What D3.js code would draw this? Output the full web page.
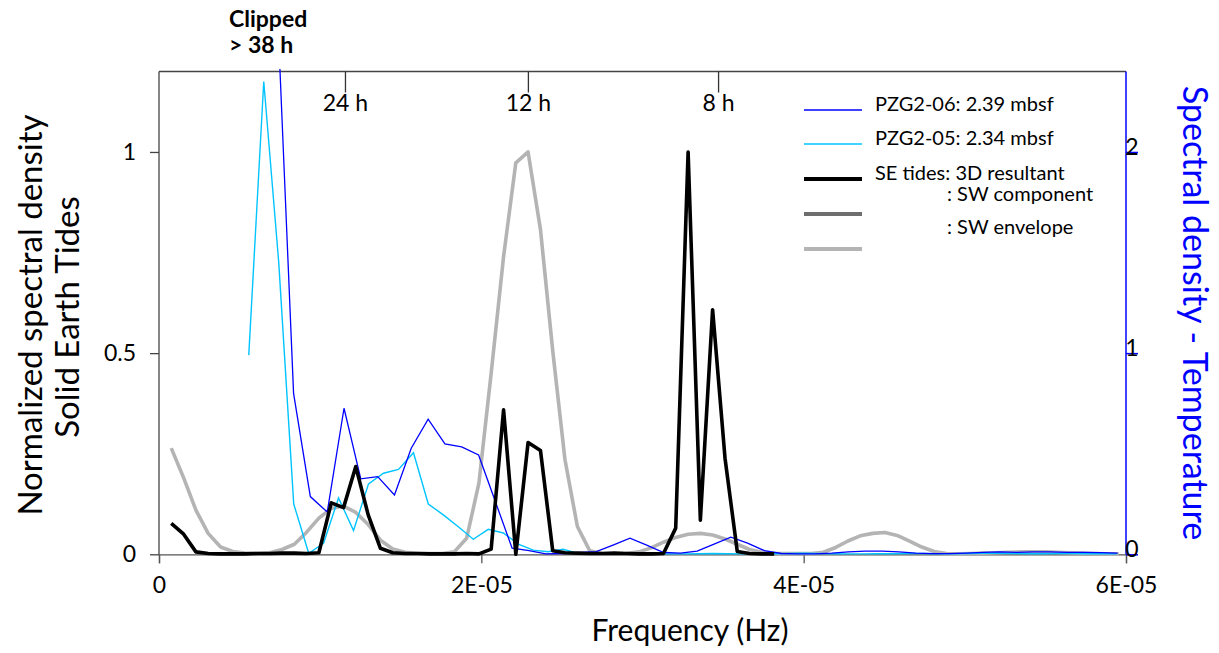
<!DOCTYPE html>
<html lang="en">
<head>
    <meta charset="UTF-8">
    <title>Spectral density</title>
    <script src="https://d3js.org/d3.v7.min.js"></script>
    <style>
        body { margin: 0; background: #fff; }
        svg text { font-family: Lato, "Open Sans", sans-serif; }
        .tick text { font-size: 23px; fill: #000; }
    </style>
</head>
<body>
<svg id="chart"></svg>
<script>
    const width = 1219, height = 653;

    // frequency grid of the solid earth tide spectra (micro Hz)
    const tideFreq = [0.76, 1.53, 2.29, 3.05, 3.82, 4.58, 5.34, 6.11, 6.87, 7.63,
        8.40, 9.16, 9.92, 10.69, 11.45, 12.21, 12.98, 13.74, 14.50, 15.27,
        16.03, 16.80, 17.56, 18.32, 19.09, 19.85, 20.61, 21.38, 22.14, 22.90,
        23.67, 24.43, 25.19, 25.96, 26.72, 27.48, 28.25, 29.01, 29.77, 30.54,
        31.30, 32.06, 32.83, 33.59, 34.35, 35.12, 35.88, 36.64, 37.41, 38.17,
        38.93, 39.70, 40.46, 41.22, 41.99, 42.75, 43.51, 44.28, 45.04, 45.80,
        46.57, 47.33, 48.09, 48.86, 49.62, 50.38, 51.15, 51.91, 52.68, 53.44,
        54.20, 54.97, 55.73, 56.49, 57.26, 58.02, 58.78, 59.55];

    // SE tides 3D resultant (normalized, first 50 bins)
    const tide3D = [0.077, 0.05, 0.006, 0.002, 0.001, 0.001, 0.001, 0.002, 0.002, 0.003,
        0.003, 0.002, 0.004, 0.128, 0.116, 0.218, 0.098, 0.015, 0.004, 0.002,
        0.002, 0.001, 0.001, 0.001, 0.002, 0.001, 0.013, 0.359, 0.0, 0.278,
        0.258, 0.009, 0.004, 0.003, 0.002, 0.002, 0.003, 0.002, 0.001, 0.001,
        0.002, 0.065, 1.0, 0.085, 0.608, 0.239, 0.007, 0.002, 0.001, 0.001];

    // SE tides SW envelope (normalized)
    const tideEnvelope = [0.264, 0.19, 0.11, 0.052, 0.018, 0.007, 0.003, 0.002, 0.004, 0.012,
        0.025, 0.055, 0.09, 0.114, 0.12, 0.104, 0.074, 0.035, 0.013, 0.005,
        0.002, 0.002, 0.002, 0.006, 0.04, 0.177, 0.45, 0.74, 0.973, 1.0,
        0.807, 0.506, 0.235, 0.069, 0.009, 0.002, 0.001, 0.002, 0.006, 0.016,
        0.03, 0.042, 0.05, 0.052, 0.048, 0.038, 0.025, 0.012, 0.005, 0.002,
        0.002, 0.002, 0.002, 0.005, 0.017, 0.033, 0.046, 0.052, 0.054, 0.047,
        0.033, 0.018, 0.007, 0.002, 0.001, 0.002, 0.003, 0.004, 0.005, 0.006,
        0.006, 0.006, 0.005, 0.004, 0.003, 0.002, 0.001, 0.001];

    // PZG2-06 temperature spectrum
    const pzg06Freq = [7.30, 8.35, 9.39, 10.44, 11.48, 12.52, 13.57, 14.61, 15.65, 16.70,
        17.74, 18.78, 19.83, 20.87, 21.91, 22.96, 24.00, 25.04, 26.09, 27.13,
        28.17, 29.22, 30.26, 31.31, 32.35, 33.39, 34.44, 35.48, 36.52, 37.57,
        38.61, 39.65, 40.70, 41.74, 42.78, 43.83, 44.87, 45.91, 46.96, 48.00,
        49.04, 50.09, 51.13, 52.18, 53.22, 54.26, 55.31, 56.35, 57.39, 58.44, 59.48];
    const pzg06 = [2.8, 0.80, 0.287, 0.21, 0.726, 0.375, 0.386, 0.295, 0.527, 0.672,
        0.549, 0.534, 0.494, 0.262, 0.03, 0.018, 0.002, 0.004, 0.009, 0.013,
        0.046, 0.08, 0.046, 0.009, 0.006, 0.016, 0.051, 0.085, 0.056, 0.018,
        0.004, 0.002, 0.002, 0.006, 0.012, 0.016, 0.016, 0.012, 0.006, 0.003,
        0.003, 0.006, 0.01, 0.012, 0.01, 0.012, 0.012, 0.01, 0.01, 0.008, 0.006];

    // PZG2-05 temperature spectrum
    const pzg05Freq = [5.57, 6.50, 7.43, 8.36, 9.29, 10.21, 11.14, 12.07, 13.00, 13.93,
        14.86, 15.79, 16.71, 17.64, 18.57, 19.50, 20.43, 21.36, 22.29, 23.22,
        24.14, 25.07, 26.00, 26.93, 27.86, 28.79, 29.72, 30.64, 31.57, 32.50,
        33.43, 34.36, 35.29, 36.22, 37.14, 38.07, 39.00, 39.93, 40.86, 41.79,
        42.72, 43.64, 44.57, 45.50, 46.43, 47.36, 48.29, 49.22, 50.14, 51.07,
        52.00, 52.93, 53.86, 54.79, 55.72, 56.64, 57.57, 58.50, 59.43];
    const pzg05 = [0.99, 2.35, 1.45, 0.25, 0.005, 0.055, 0.28, 0.118, 0.35, 0.403,
        0.422, 0.505, 0.25, 0.196, 0.137, 0.075, 0.124, 0.106, 0.051, 0.021,
        0.013, 0.025, 0.004, 0.003, 0.002, 0.003, 0.004, 0.003, 0.002, 0.002,
        0.003, 0.004, 0.003, 0.002, 0.002, 0.003, 0.004, 0.005, 0.004, 0.003,
        0.002, 0.002, 0.003, 0.003, 0.004, 0.004, 0.003, 0.003, 0.004, 0.005,
        0.005, 0.004, 0.003, 0.003, 0.004, 0.004, 0.003, 0.003, 0.002];

    const xTicks = [0, 20, 40, 60];
    const xTickLabels = ["0", "2E-05", "4E-05", "6E-05"];
    const leftTicks = [0, 0.5, 1];
    const rightTicks = [0, 1, 2];
    const periodFreq = [11.57, 22.92, 34.72];
    const periodLabels = ["24 h", "12 h", "8 h"];

    const legendItems = [
        {label: "PZG2-06: 2.39 mbsf", color: "#0000ff", w: 1.5},
        {label: "PZG2-05: 2.34 mbsf", color: "#00c4ff", w: 1.5},
        {label: "SE tides: 3D resultant", color: "#000000", w: 4},
        {label: ": SW component", color: "#6e6e6e", w: 4},
        {label: ": SW envelope", color: "#b4b4b4", w: 4}
    ];

    const plotLeft = 159, plotRight = 1126, plotTop = 71.5, plotBottom = 554.3;

    const svg = d3.select("#chart")
        .attr("width", width)
        .attr("height", height);

    const x = d3.scaleLinear().domain([0, 60]).range([plotLeft, plotRight]);
    const yL = d3.scaleLinear().domain([0, 1.2]).range([plotBottom, plotTop]);
    const yR = d3.scaleLinear().domain([0, 2.4]).range([plotBottom, plotTop]);

    svg.append("clipPath").attr("id", "clip")
        .append("rect")
        .attr("x", plotLeft).attr("y", plotTop - 2.5)
        .attr("width", plotRight - plotLeft).attr("height", plotBottom - plotTop + 8);

    // frame: top border
    svg.append("line")
        .attr("x1", plotLeft).attr("x2", plotRight)
        .attr("y1", plotTop).attr("y2", plotTop)
        .attr("stroke", "#444").attr("stroke-width", 1.3);

    // bottom axis
    const xAxis = svg.append("g")
        .attr("transform", `translate(0,${plotBottom})`)
        .call(d3.axisBottom(x).tickValues(xTicks)
            .tickFormat((d, i) => xTickLabels[i]).tickSize(9).tickPadding(13));
    xAxis.selectAll("path, line").attr("stroke", "#555").attr("stroke-width", 1.3);

    // left axis
    const yAxisL = svg.append("g")
        .attr("transform", `translate(${plotLeft},0)`)
        .call(d3.axisLeft(yL).tickValues(leftTicks).tickFormat(d3.format("")).tickSize(9).tickPadding(14));
    yAxisL.select(".domain").attr("d", `M0,${plotTop}V${plotBottom}`);
    yAxisL.selectAll("path, line").attr("stroke", "#444").attr("stroke-width", 1.3);

    // right axis (blue)
    const yAxisR = svg.append("g")
        .attr("transform", `translate(${plotRight},0)`)
        .call(d3.axisRight(yR).tickValues(rightTicks).tickFormat(d3.format("d"))
            .tickSize(12).tickPadding(-6));
    yAxisR.select(".domain").attr("d", `M0,${plotTop}V${plotBottom}`);
    yAxisR.selectAll("path, line").attr("stroke", "#0000ff").attr("stroke-width", 1.5);
    yAxisR.selectAll("text").attr("fill", "#0000ff").attr("text-anchor", "middle").attr("dy", "0.1em");

    // period ticks along the top
    const periods = svg.append("g");
    periods.selectAll("line").data(periodFreq).join("line")
        .attr("x1", d => x(d)).attr("x2", d => x(d))
        .attr("y1", plotTop).attr("y2", plotTop + 21)
        .attr("stroke", "#333").attr("stroke-width", 1.3);
    periods.selectAll("text").data(periodFreq).join("text")
        .attr("x", d => x(d)).attr("y", plotTop + 39)
        .attr("text-anchor", "middle")
        .attr("font-size", 23)
        .text((d, i) => periodLabels[i]);

    const plot = svg.append("g").attr("clip-path", "url(#clip)");

    const lineL = d3.line().x(d => x(d[0])).y(d => yL(d[1]));
    const lineR = d3.line().x(d => x(d[0])).y(d => yR(d[1]));

    plot.append("path")
        .datum(tideEnvelope.map((v, i) => [tideFreq[i], v]))
        .attr("d", lineL)
        .attr("fill", "none").attr("stroke", "#b4b4b4").attr("stroke-width", 3.6)
        .attr("stroke-linejoin", "round");

    plot.append("path")
        .datum(pzg05.map((v, i) => [pzg05Freq[i], v]))
        .attr("d", lineR)
        .attr("fill", "none").attr("stroke", "#00c4ff").attr("stroke-width", 1.4);

    plot.append("path")
        .datum(pzg06.map((v, i) => [pzg06Freq[i], v]))
        .attr("d", lineR)
        .attr("fill", "none").attr("stroke", "#0000ff").attr("stroke-width", 1.3);

    plot.append("path")
        .datum(tide3D.map((v, i) => [tideFreq[i], v]))
        .attr("d", lineL)
        .attr("fill", "none").attr("stroke", "#000").attr("stroke-width", 3.6)
        .attr("stroke-linejoin", "round");

    // legend
    const legend = svg.append("g");
    const legendY = [110, 144, 179, 214, 249];
    legend.selectAll("line").data(legendItems).join("line")
        .attr("x1", 804).attr("x2", 862)
        .attr("y1", (d, i) => legendY[i]).attr("y2", (d, i) => legendY[i])
        .attr("stroke", d => d.color).attr("stroke-width", d => d.w);
    const legendText = [[875, 111], [875, 145], [875, 180], [947, 201], [947, 234]];
    legend.selectAll("text").data(legendItems).join("text")
        .attr("x", (d, i) => legendText[i][0])
        .attr("y", (d, i) => legendText[i][1])
        .attr("font-size", 20)
        .text(d => d.label);

    // clipped note
    svg.append("text").attr("x", 229).attr("y", 27)
        .attr("font-size", 23).attr("font-weight", "bold").text("Clipped");
    svg.append("text").attr("x", 229).attr("y", 53)
        .attr("font-size", 23).attr("font-weight", "bold").text("> 38 h");

    // axis titles
    svg.append("text")
        .attr("x", 690).attr("y", 641)
        .attr("text-anchor", "middle").attr("font-size", 30)
        .text("Frequency (Hz)");

    svg.append("text")
        .attr("transform", "translate(42,315) rotate(-90)")
        .attr("text-anchor", "middle").attr("font-size", 33)
        .text("Normalized spectral density");
    svg.append("text")
        .attr("transform", "translate(79,317) rotate(-90)")
        .attr("text-anchor", "middle").attr("font-size", 33)
        .text("Solid Earth Tides");

    svg.append("text")
        .attr("transform", "translate(1183,313) rotate(90)")
        .attr("text-anchor", "middle").attr("font-size", 34)
        .attr("fill", "#0000ff")
        .text("Spectral density - Temperature");
</script>
</body>
</html>
